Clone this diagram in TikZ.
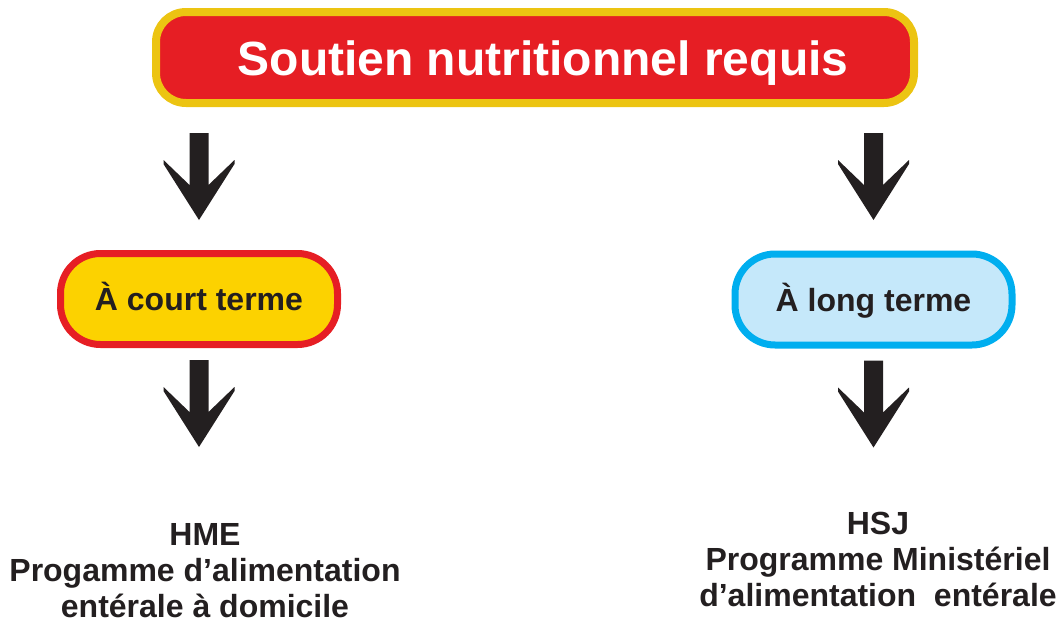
\documentclass[tikz,border=0pt]{standalone}
\usepackage{fontspec}
\setmainfont{Liberation Sans}
\usetikzlibrary{positioning, calc}
\definecolor{titlered}{RGB}{230, 30, 36}
\definecolor{titlegold}{RGB}{236, 196, 18}
\definecolor{shortyellow}{RGB}{252, 210, 0}
\definecolor{longblue}{RGB}{197, 232, 250}
\definecolor{longcyan}{RGB}{0, 174, 239}
\definecolor{inkdark}{RGB}{35, 31, 32}
\tikzset{
  titlebox/.style={
    draw=titlegold, line width=8pt, fill=titlered,
    rounded corners=30pt,
    minimum width=758pt,
    minimum height=91pt,
    inner sep=0pt, text=white,
    font=\fontsize{48}{56}\selectfont\bfseries,
    text height=36pt, text depth=0pt
  },
  termbox/.style={
    line width=7pt, rounded corners=40pt,
    minimum width=277pt,
    minimum height=91pt,
    inner sep=0pt, text=inkdark,
    font=\fontsize{32}{37}\selectfont\bfseries,
    text height=23pt, text depth=0pt
  },
  progtext/.style={align=center, inner sep=0pt, text=inkdark, font=\fontsize{32}{36}\selectfont\bfseries}
}
\newcommand{\blockarrow}[1]{
  \begin{scope}[shift={#1}]
    \fill[inkdark]
      (-9.5, 0) -- (9.5, 0) -- (9.5, 52) --
      (35.5, 27) -- (35.5, 31) -- (0, 87) --
      (-35.5, 31) -- (-35.5, 27) -- (-9.5, 52) -- cycle;
  \end{scope}
}

\begin{document}
\begin{tikzpicture}[x=1pt, y=-1pt]
\useasboundingbox (0, 0) rectangle (1058, 624);

% Titre
\node[titlebox] (title) at (535, 57.5) {\hspace*{16pt}Soutien nutritionnel requis};

% Court / long terme
\node[termbox, draw=titlered, fill=shortyellow] (short) at (199, 299) {À court terme};
\node[termbox, draw=longcyan, fill=longblue] (long) at (873.5, 299.5) {À long terme};

% Programmes
\node[progtext, anchor=north] (hme) at (205, 523) {HME\\Progamme d’alimentation\\entérale à domicile};
\node[progtext, anchor=north] (hsj) at (878, 512) {HSJ\\Programme Ministériel\\d’alimentation~ entérale};

% Fleches
\blockarrow{($(title.south -| short.north)+(0, 26)$)}
\blockarrow{($(title.south -| long.north)+(0, 26)$)}
\blockarrow{($(short.south)+(0, 12)$)}
\blockarrow{($(long.south)+(0, 12)$)}

\end{tikzpicture}
\end{document}
